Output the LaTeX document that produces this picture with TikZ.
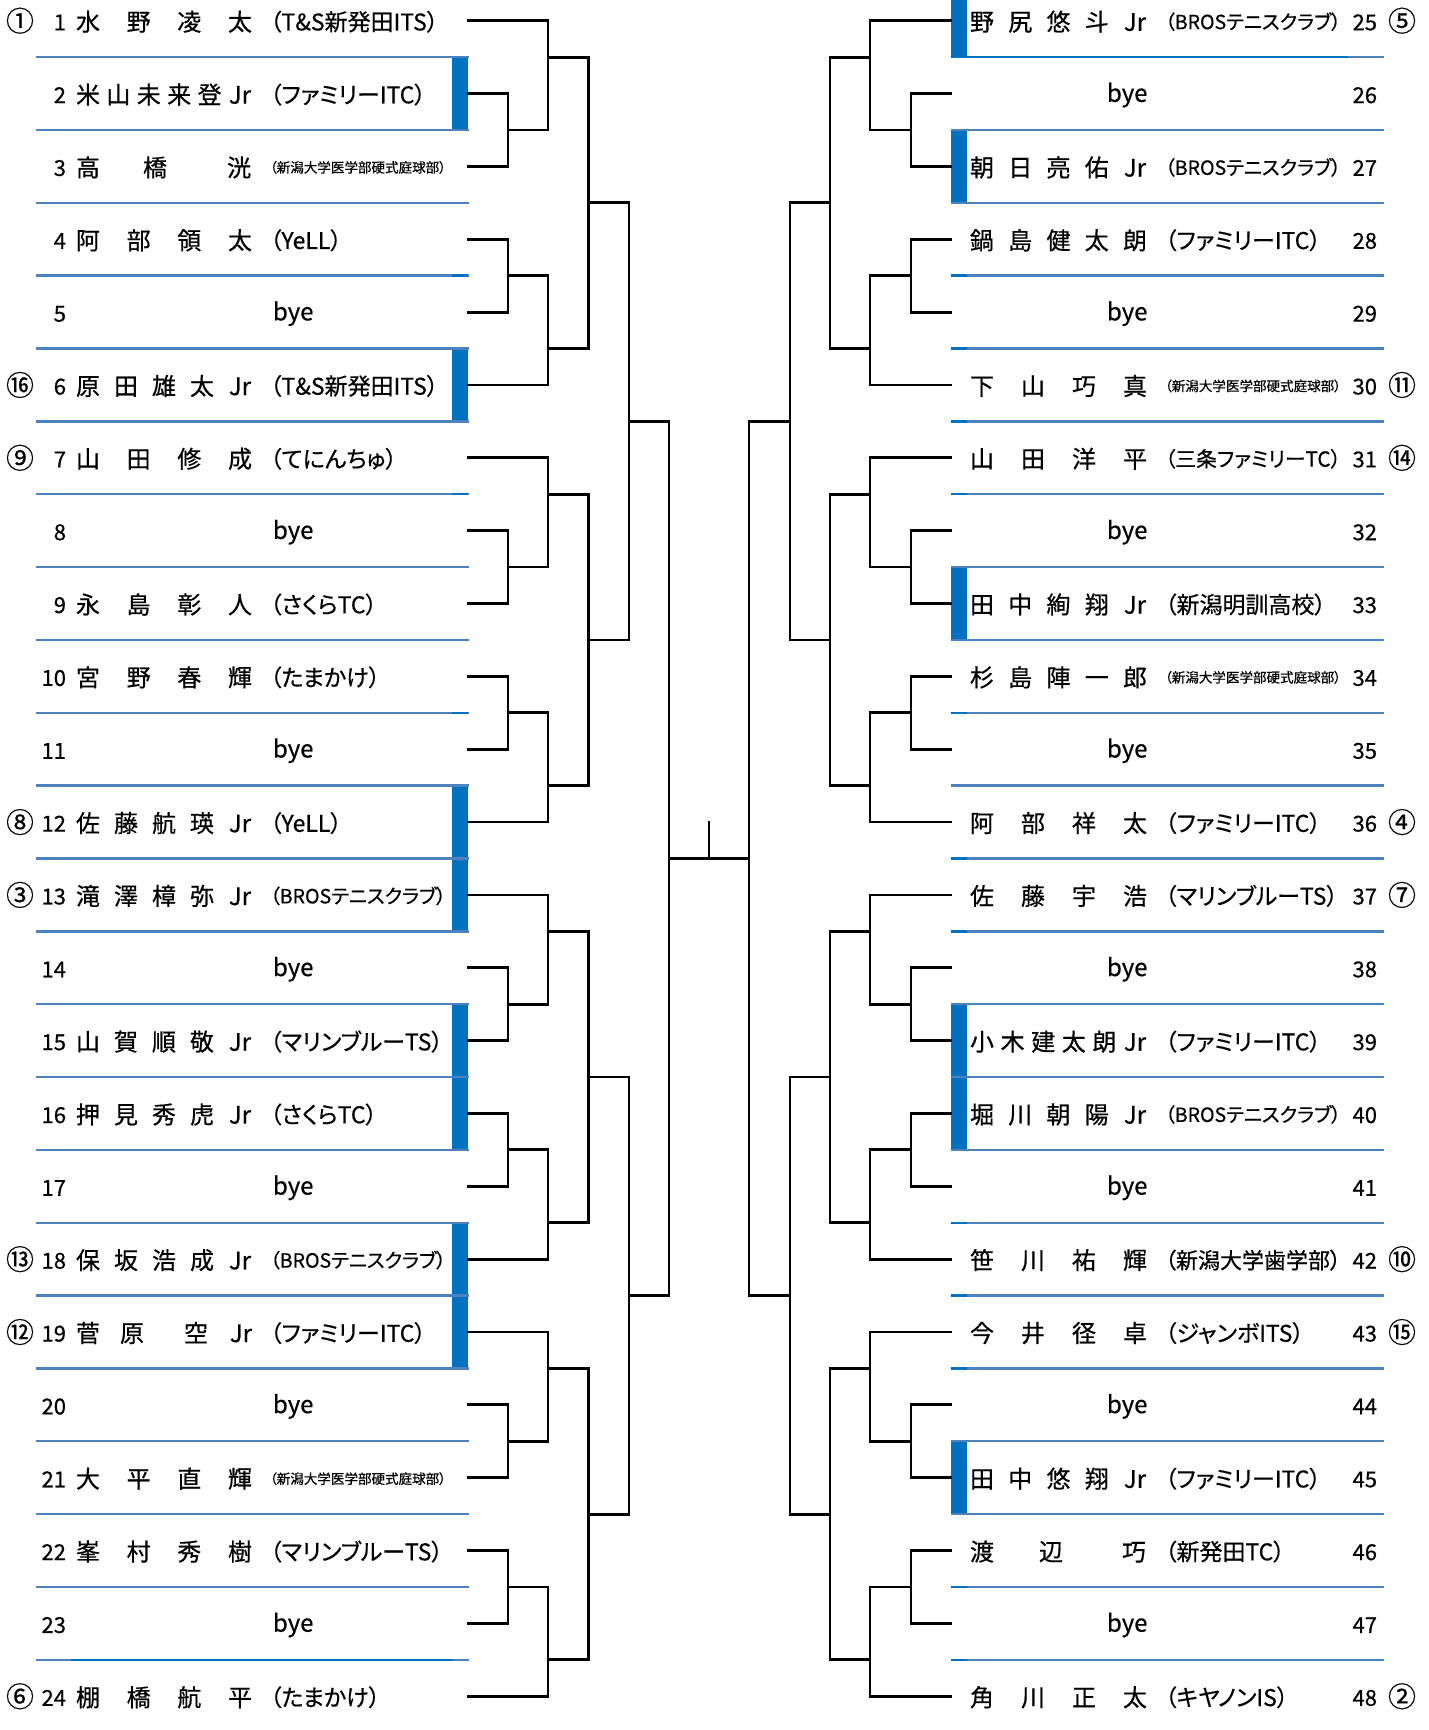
\documentclass[tikz,border=0pt]{standalone}
\usepackage{fontspec}
\usepackage{graphicx}
\setmainfont[RawFeature=+palt, FakeBold=0.5]{Noto Sans CJK JP}
\definecolor{sepc}{HTML}{4F81BD}
\definecolor{barc}{HTML}{0070C0}
\newlength\clubmax
\setlength\clubmax{88pt}
\newsavebox\clubbox
\newcommand\club[1]{\sbox\clubbox{\vphantom{漢}#1}\ifdim\wd\clubbox>\clubmax\resizebox{\clubmax}{!}{\usebox\clubbox}\else\usebox\clubbox\fi}
\newcommand\nameL[3]{\foreach \c [count=\j] in {#3} {\node[nm] (m#1-\j) at ({88+(\j-1)*152/(#2-1)},{ry(#1)}) {\vphantom{漢}\c};}}
\newcommand\nameR[3]{\foreach \c [count=\j] in {#3} {\node[nm] (m#1-\j) at ({982+(\j-1)*153/(#2-1)},{ry(#1)}) {\vphantom{漢}\c};}}
\newcommand\nameAt[4]{\node[nm] (m#1-#2) at (#3,{ry(#1)}) {\vphantom{漢}#4};}
\newcommand\clubL[2]{\node[clb] (c#1) at (270,{ry(#1)}) {\club{#2}};}
\newcommand\clubR[2]{\node[clb] (c#1) at (1165,{ry(#1)}) {\club{#2}};}
\newcommand\byeL[1]{\node[nm, anchor=west] (b#1) at (273,{ry(#1)}) {\vphantom{漢}bye};}
\newcommand\byeR[1]{\node[nm, anchor=west] (b#1) at (1107,{ry(#1)}) {\vphantom{漢}bye};}
\newcommand\seedL[2]{\node[circ] (s#1) at (20,{ry(#1)}) {\vphantom{漢}#2};}
\newcommand\seedR[2]{\node[circ] (s#1) at (1402,{ry(#1)}) {\vphantom{漢}#2};}
% bracket group of six rows: #1 first row, #2..#6 x of line end, R1, R2, R3, R4
\newcommand\grp[6]{%
  \draw[brk] (#2,{ry(#1)}) -- (#4,{ry(#1)}) -- (#4,{sp(#1+1)});
  \draw[brk] (#2,{ry(#1+1)}) -- (#3,{ry(#1+1)}) -- (#3,{ry(#1+2)}) -- (#2,{ry(#1+2)});
  \draw[brk] (#3,{sp(#1+1)}) -- (#4,{sp(#1+1)});
  \draw[brk] (#4,{sp(#1)}) -- (#5,{sp(#1)});
  \draw[brk] (#2,{ry(#1+3)}) -- (#3,{ry(#1+3)}) -- (#3,{ry(#1+4)}) -- (#2,{ry(#1+4)});
  \draw[brk] (#3,{sp(#1+3)}) -- (#4,{sp(#1+3)}) -- (#4,{ry(#1+5)}) -- (#2,{ry(#1+5)});
  \draw[brk] (#4,{sp(#1+4)}) -- (#5,{sp(#1+4)});
  \draw[brk] (#5,{sp(#1)}) -- (#5,{sp(#1+4)});
  \draw[brk] (#5,{sp(#1+2)}) -- (#6,{sp(#1+2)});
}
\begin{document}
\begin{tikzpicture}[x=0.5pt,y=-0.5pt,
  declare function={ry(\i)=20.7+72.85*mod(\i-1,24); sp(\i)=ry(\i)+36.4;},
  brk/.style={line width=1.4pt, line cap=rect, line join=miter, draw=black},
  nm/.style={inner sep=0pt, outer sep=0pt, yshift=-0.5pt, font=\fontsize{12pt}{12pt}\selectfont},
  num/.style={inner sep=0pt, outer sep=0pt, yshift=-0.6pt, font=\fontsize{11pt}{11pt}\selectfont},
  clb/.style={inner sep=0pt, outer sep=0pt, yshift=-0.5pt, anchor=west, font=\fontsize{11.5pt}{11.5pt}\selectfont},
  circ/.style={inner sep=0pt, outer sep=0pt, font=\fontsize{14pt}{14pt}\selectfont},
  sepline/.style={line width=1.2pt, draw=sepc},
  sepdark/.style={line width=1.2pt, draw=barc},
  bar/.style={fill=barc}]
\useasboundingbox (0,0) rectangle (1429,1730);
\fill[white] (0,0) rectangle (1429,1730);
% blue bars
\foreach \k in {2,6,12,13,15,16,18,19} \fill[bar] (452,{sp(\k-1)}) rectangle (468,{sp(\k)});
\foreach \k in {27,33,39,40,45} \fill[bar] (951,{sp(\k-1)}) rectangle (967,{sp(\k)});
\fill[bar] (951,0) rectangle (967,{sp(25)});
% separators
\foreach \k in {1,...,23} \draw[sepline] (36,{sp(\k)}) -- (469,{sp(\k)});
\foreach \k in {4,7,10} \draw[sepdark] (452,{sp(\k)}) -- (468,{sp(\k)});
\draw[sepdark] (71,{sp(23)}) -- (453,{sp(23)});
\foreach \k in {25,...,47} \draw[sepline] (951,{sp(\k)}) -- (1384,{sp(\k)});
\draw[sepdark] (951,{sp(25)}) -- (1348,{sp(25)});
\foreach \k in {28,29,30,31,34,36,37,41,42,43,46,47} \draw[sepdark] (951,{sp(\k)}) -- (967,{sp(\k)});
% brackets left
\grp{1}{468}{508}{548}{588.5}{629}
\grp{7}{468}{508}{548}{588.5}{629}
\grp{13}{468}{508}{548}{588.5}{629}
\grp{19}{468}{508}{548}{588.5}{629}
\draw[brk] (629,{sp(3)}) -- (629,{sp(9)});
\draw[brk] (629,{sp(6)}) -- (669,{sp(6)});
\draw[brk] (629,{sp(15)}) -- (629,{sp(21)});
\draw[brk] (629,{sp(18)}) -- (669,{sp(18)});
\draw[brk] (669,{sp(6)}) -- (669,{sp(18)});
% brackets right
\grp{25}{951}{911}{870}{830}{790}
\grp{31}{951}{911}{870}{830}{790}
\grp{37}{951}{911}{870}{830}{790}
\grp{43}{951}{911}{870}{830}{790}
\draw[brk] (790,{sp(27)}) -- (790,{sp(33)});
\draw[brk] (790,{sp(30)}) -- (749,{sp(30)});
\draw[brk] (790,{sp(39)}) -- (790,{sp(45)});
\draw[brk] (790,{sp(42)}) -- (749,{sp(42)});
\draw[brk] (749,{sp(30)}) -- (749,{sp(42)});
% final
\coordinate (fl) at (669,{sp(12)});
\coordinate (fr) at (749,{sp(12)});
\coordinate (fm) at (709,{sp(12)});
\coordinate (ft) at (709,{ry(12)});
\draw[brk] (fl) -- (fr);
\draw[brk] (fm) -- (ft);
% numbers
\foreach \k in {1,...,24} \node[num, anchor=east] (n\k) at (66,{ry(\k)}) {\vphantom{漢}\k};
\foreach \k in {25,...,48} \node[num, anchor=east] (n\k) at (1377,{ry(\k)}) {\vphantom{漢}\k};
% left entries
\seedL{1}{①}\nameL{1}{4}{水,野,凌,太}\clubL{1}{（T\&S新発田ITS）}
\nameL{2}{6}{米,山,未,来,登,Jr}\clubL{2}{（ファミリーITC）}
\nameAt{3}{1}{88}{高}\nameAt{3}{2}{155}{橋}\nameAt{3}{3}{239}{洸}\clubL{3}{（新潟大学医学部硬式庭球部）}
\nameL{4}{4}{阿,部,領,太}\clubL{4}{（YeLL）}
\byeL{5}
\seedL{6}{⑯}\nameL{6}{5}{原,田,雄,太,Jr}\clubL{6}{（T\&S新発田ITS）}
\seedL{7}{⑨}\nameL{7}{4}{山,田,修,成}\clubL{7}{（てにんちゅ）}
\byeL{8}
\nameL{9}{4}{永,島,彰,人}\clubL{9}{（さくらTC）}
\nameL{10}{4}{宮,野,春,輝}\clubL{10}{（たまかけ）}
\byeL{11}
\seedL{12}{⑧}\nameL{12}{5}{佐,藤,航,瑛,Jr}\clubL{12}{（YeLL）}
\seedL{13}{③}\nameL{13}{5}{滝,澤,樟,弥,Jr}\clubL{13}{（BROSテニスクラブ）}
\byeL{14}
\nameL{15}{5}{山,賀,順,敬,Jr}\clubL{15}{（マリンブルーTS）}
\nameL{16}{5}{押,見,秀,虎,Jr}\clubL{16}{（さくらTC）}
\byeL{17}
\seedL{18}{⑬}\nameL{18}{5}{保,坂,浩,成,Jr}\clubL{18}{（BROSテニスクラブ）}
\seedL{19}{⑫}\nameAt{19}{1}{88}{菅}\nameAt{19}{2}{132}{原}\nameAt{19}{3}{196}{空}\nameAt{19}{4}{241}{Jr}\clubL{19}{（ファミリーITC）}
\byeL{20}
\nameL{21}{4}{大,平,直,輝}\clubL{21}{（新潟大学医学部硬式庭球部）}
\nameL{22}{4}{峯,村,秀,樹}\clubL{22}{（マリンブルーTS）}
\byeL{23}
\seedL{24}{⑥}\nameL{24}{4}{棚,橋,航,平}\clubL{24}{（たまかけ）}
% right entries
\seedR{25}{⑤}\nameR{25}{5}{野,尻,悠,斗,Jr}\clubR{25}{（BROSテニスクラブ）}
\byeR{26}
\nameR{27}{5}{朝,日,亮,佑,Jr}\clubR{27}{（BROSテニスクラブ）}
\nameR{28}{5}{鍋,島,健,太,朗}\clubR{28}{（ファミリーITC）}
\byeR{29}
\seedR{30}{⑪}\nameR{30}{4}{下,山,巧,真}\clubR{30}{（新潟大学医学部硬式庭球部）}
\seedR{31}{⑭}\nameR{31}{4}{山,田,洋,平}\clubR{31}{（三条ファミリーTC）}
\byeR{32}
\nameR{33}{5}{田,中,絢,翔,Jr}\clubR{33}{（新潟明訓高校）}
\nameR{34}{5}{杉,島,陣,一,郎}\clubR{34}{（新潟大学医学部硬式庭球部）}
\byeR{35}
\seedR{36}{④}\nameR{36}{4}{阿,部,祥,太}\clubR{36}{（ファミリーITC）}
\seedR{37}{⑦}\nameR{37}{4}{佐,藤,宇,浩}\clubR{37}{（マリンブルーTS）}
\byeR{38}
\nameR{39}{6}{小,木,建,太,朗,Jr}\clubR{39}{（ファミリーITC）}
\nameR{40}{5}{堀,川,朝,陽,Jr}\clubR{40}{（BROSテニスクラブ）}
\byeR{41}
\seedR{42}{⑩}\nameR{42}{4}{笹,川,祐,輝}\clubR{42}{（新潟大学歯学部）}
\seedR{43}{⑮}\nameR{43}{4}{今,井,径,卓}\clubR{43}{（ジャンボITS）}
\byeR{44}
\nameR{45}{5}{田,中,悠,翔,Jr}\clubR{45}{（ファミリーITC）}
\nameAt{46}{1}{982}{渡}\nameAt{46}{2}{1051}{辺}\nameAt{46}{3}{1134}{巧}\clubR{46}{（新発田TC）}
\byeR{47}
\seedR{48}{②}\nameR{48}{4}{角,川,正,太}\clubR{48}{（キヤノンIS）}
\end{tikzpicture}
\end{document}
